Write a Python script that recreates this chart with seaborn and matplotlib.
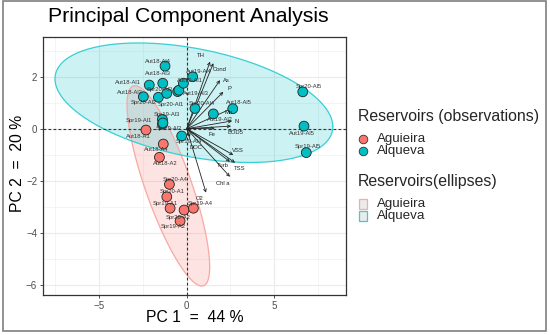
import numpy as np
import pandas as pd
import seaborn as sns
import matplotlib
matplotlib.use("Agg")
import matplotlib.pyplot as plt
from matplotlib.lines import Line2D
from matplotlib.patches import Rectangle

# ---------------- data ----------------
obs_labels = ["Aut18-Al4", "Aut18-Al3", "Aut18-Al1", "Aut18-Al2", "Spr20-Al2", "Spr20-Al3",
              "Spr20-Al1", "Aut19-Al3", "Aut19-Al4", "Aut19-Al1", "Spr20-Al4", "Aut19-Al2",
              "Aut18-Al5", "Spr20-Al5", "Aut19-Al5", "Spr19-Al5", "Spr19-Al3", "Spr19-Al1",
              "Spr19-Al2", "Spr19-Al4",
              "Aut18-A1", "Aut18-A4", "Aut18-A2", "Spr20-A4", "Spr20-A1", "Spr19-A1",
              "Spr20-A2", "Spr19-A4", "Spr19-A2"]
obs_pc1 = [-1.24, -1.37, -2.14, -2.48, -1.62, -1.14, -0.52, -0.45, 0.34, -0.19, 0.47, 1.52,
           2.63, 6.63, 6.70, 6.83, -1.39, -1.39, -1.36, -0.29,
           -2.33, -1.34, -1.56, -0.99, -1.14, -0.95, -0.15, 0.38, -0.38]
obs_pc2 = [2.41, 1.75, 1.68, 1.23, 1.21, 1.36, 1.43, 1.48, 2.00, 1.75, 0.78, 0.57,
           0.77, 1.42, 0.10, -0.92, 0.36, 0.18, 0.22, -0.28,
           -0.05, -0.59, -1.10, -2.14, -2.62, -3.06, -3.13, -3.06, -3.55]
obs_reservoir = ["Alqueva"] * 20 + ["Aguieira"] * 9

var_names = ["TH", "Cond", "As", "P", "Mn", "N", "BOD5", "Fe", "VSS", "TSS", "Turb",
             "Chl a", "O2", "DOC"]
var_pc1 = [1.33, 1.52, 1.90, 2.09, 2.57, 2.59, 2.53, 1.60, 2.66, 2.76, 2.47, 2.47, 1.10, 0.19]
var_pc2 = [2.58, 2.52, 1.87, 1.42, 0.78, 0.30, 0.10, 0.02, -1.01, -1.31, -1.27, -1.85, -2.46, -0.32]

# ellipses: centre, variance-like extents and covariance term (data units)
ell_groups = ["Aguieira", "Alqueva"]
ell_cx = [-1.05, 0.41]
ell_cy = [-2.20, 1.00]
ell_sxx = [5.58, 63.0]
ell_syy = [14.87, 5.29]
ell_sxy = [-7.36, -7.30]

x_ticks = [-5, 0, 5]
y_ticks = [-6, -4, -2, 0, 2]

# ---------------- styling ----------------
palette = {"Aguieira": "#F8766D", "Alqueva": "#00BFC4"}
ell_edge = {"Aguieira": "#F9A8A2", "Alqueva": "#38CFD3"}
FONT = "Liberation Sans"

obs_off_px = {
    "Aut18-Al4": (-7, -5), "Aut18-Al3": (-5, -10), "Aut18-Al1": (-21, -3), "Aut18-Al2": (-13, -4),
    "Spr20-Al2": (-15, 5), "Spr20-Al3": (-7, -4), "Spr20-Al1": (-7, 13), "Aut19-Al3": (17, 3),
    "Aut19-Al4": (6, -5), "Aut19-Al1": (7, -3), "Spr20-Al4": (7, -5), "Aut19-Al2": (7, 6),
    "Aut18-Al5": (6, -6), "Spr20-Al5": (6, -5), "Aut19-Al5": (-2, 7), "Spr19-Al5": (2, -6),
    "Spr19-Al3": (4, -5), "Spr19-Al1": (-24, -4), "Spr19-Al2": (6, 6), "Spr19-Al4": (7, 6),
    "Aut18-A1": (-8, 6), "Aut18-A4": (-7, 5), "Aut18-A2": (6, 6), "Spr20-A4": (6, -5),
    "Spr20-A1": (5, -5), "Spr19-A1": (-5, -5), "Spr20-A2": (-6, 7), "Spr19-A4": (7, -5),
    "Spr19-A2": (-7, 6),
}
var_off_px = {
    "TH": (-9, -6), "Cond": (6, 6), "As": (6, 0), "P": (6, -3), "Mn": (-3, 4), "N": (5, 1),
    "BOD5": (4, 6), "Fe": (-3, 6), "VSS": (5, -4), "TSS": (5, 6), "Turb": (-7, 4),
    "Chl a": (-7, 7), "O2": (-6, 6), "DOC": (6, 10),
}

df = pd.DataFrame({"label": obs_labels, "PC1": obs_pc1, "PC2": obs_pc2,
                   "Reservoir": obs_reservoir})

sns.set_theme(style="whitegrid")
plt.rcParams["font.family"] = [FONT, "DejaVu Sans"]

W, H = 550, 335
fig = plt.figure(figsize=(5.5, 3.35), dpi=100)
ax = fig.add_axes([42.7 / W, 1 - 295 / H, (346 - 42.7) / W, (295 - 37) / H])
ax.set_facecolor("white")

# ellipses
t = np.linspace(0, 2 * np.pi, 300)
for g, cx, cy, sxx, syy, sxy in zip(ell_groups, ell_cx, ell_cy, ell_sxx, ell_syy, ell_sxy):
    L = np.linalg.cholesky(np.array([[sxx, sxy], [sxy, syy]]))
    pts = L @ np.vstack([np.cos(t), np.sin(t)])
    ax.fill(cx + pts[0], cy + pts[1], facecolor=palette[g], alpha=0.2,
            edgecolor="none", zorder=1)
    ax.plot(cx + pts[0], cy + pts[1], color=ell_edge[g], lw=0.9, zorder=1.5)

ax.axhline(0, color="#333333", lw=0.8, ls=(0, (2.5, 2)), zorder=1.8)
ax.axvline(0, color="#333333", lw=0.8, ls=(0, (2.5, 2)), zorder=1.8)

# arrows
for name, vx, vy in zip(var_names, var_pc1, var_pc2):
    ax.annotate("", xy=(vx, vy), xytext=(0, 0),
                arrowprops=dict(arrowstyle="->", color="#222222", lw=0.6,
                                mutation_scale=5, shrinkA=0, shrinkB=0), zorder=2)
    dx, dy = var_off_px[name]
    ax.annotate(name, xy=(vx, vy), xytext=(dx * 0.72, -dy * 0.72),
                textcoords="offset points", ha="center", va="center",
                fontsize=4.2, color="#222222", zorder=4)

sns.scatterplot(data=df, x="PC1", y="PC2", hue="Reservoir", palette=palette,
                s=50, edgecolor="#222222", linewidth=0.6, legend=False, ax=ax, zorder=3)

for lab, x, y in zip(obs_labels, obs_pc1, obs_pc2):
    dx, dy = obs_off_px[lab]
    ax.annotate(lab, xy=(x, y), xytext=(dx * 0.72, -dy * 0.72),
                textcoords="offset points", ha="center", va="center",
                fontsize=4.2, color="#333333", zorder=4)

ax.set_xlim(-8.23, 9.1)
ax.set_ylim(-6.4, 3.53)
ax.set_xticks(x_ticks)
ax.set_yticks(y_ticks)
ax.set_xticks([-7.5, -2.5, 2.5, 7.5], minor=True)
ax.set_yticks([-5, -3, -1, 1, 3], minor=True)
ax.grid(which="major", color="#EBEBEB", lw=0.8)
ax.grid(which="minor", color="#F3F3F3", lw=0.6)
ax.tick_params(axis="both", which="major", labelsize=7, labelcolor="#4D4D4D",
               length=2.5, width=0.6, color="#333333", pad=1.5, bottom=True, left=True)
ax.tick_params(which="minor", length=0)
for sp in ax.spines.values():
    sp.set_color("#333333")
    sp.set_linewidth(0.9)
ax.set_xlabel("PC 1  =  44 %", fontsize=11.3, color="black")
ax.set_ylabel("PC 2  =  20 %", fontsize=11.3, color="black")
ax.xaxis.label.set_va("center")
ax.yaxis.label.set_va("center")
ax.xaxis.set_label_coords(0.5, -(318 - 295) / 258)
ax.yaxis.set_label_coords(-(42.7 - 18) / 303.3, 0.51)

fig.text(48 / W, 1 - 17 / H, "Principal Component Analysis", fontsize=15.3, color="black",
         ha="left", va="center")

# legends (manual, figure pixel layout)
def fy(py):
    return 1 - py / H

fig.text(358 / W, fy(116), "Reservoirs (observations)", fontsize=11.4, va="center", ha="left")
for g, py in zip(ell_groups, [139, 151]):
    fig.add_artist(Line2D([362.7 / W], [fy(py)], transform=fig.transFigure, marker="o",
                          ls="none", markersize=6.2, markerfacecolor=palette[g],
                          markeredgecolor="#333333", markeredgewidth=0.6))
    fig.text(377 / W, fy(py), g, fontsize=9.6, va="center", ha="left")

fig.text(358 / W, fy(182), "Reservoirs(ellipses)", fontsize=11.4, va="center", ha="left")
for g, py in zip(ell_groups, [204, 216]):
    fig.add_artist(Rectangle((358.5 / W, fy(py + 5)), 8.5 / W, 10 / H, transform=fig.transFigure,
                             facecolor="#EBEBEB", edgecolor=ell_edge[g], lw=0.9))
    fig.text(377 / W, fy(py), g, fontsize=9.6, va="center", ha="left")

fig.add_artist(Rectangle((0.006, 0.012), 0.986, 0.985, transform=fig.transFigure,
                         fill=False, edgecolor="#7F7F7F", lw=1.2))

fig.savefig("out.png", dpi=100)
